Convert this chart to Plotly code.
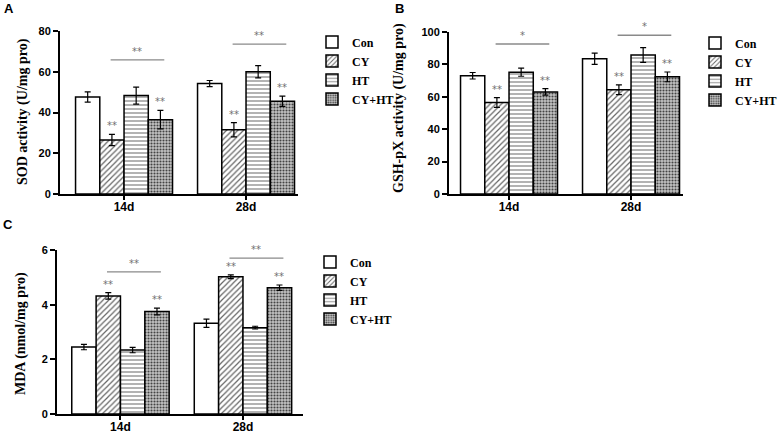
import plotly.graph_objects as go

categories = ["14d", "28d"]
series_names = ["Con", "CY", "HT", "CY+HT"]

# Panel A: SOD activity (U/mg pro)
sod_con = [47.6, 54.2]
sod_cy = [26.5, 31.5]
sod_ht = [48.3, 60.0]
sod_cyht = [36.5, 45.5]
sod_con_err = [2.5, 1.5]
sod_cy_err = [2.8, 3.5]
sod_ht_err = [4.2, 3.0]
sod_cyht_err = [4.5, 2.5]

# Panel B: GSH-pX activity (U/mg pro)
gsh_con = [73.0, 83.5]
gsh_cy = [56.5, 64.3]
gsh_ht = [75.2, 85.8]
gsh_cyht = [63.0, 72.3]
gsh_con_err = [2.0, 3.5]
gsh_cy_err = [3.0, 3.0]
gsh_ht_err = [2.5, 4.5]
gsh_cyht_err = [2.0, 3.0]

# Panel C: MDA (nmol/mg pro)
mda_con = [2.45, 3.32]
mda_cy = [4.32, 5.02]
mda_ht = [2.34, 3.16]
mda_cyht = [3.75, 4.62]
mda_con_err = [0.10, 0.15]
mda_cy_err = [0.12, 0.07]
mda_ht_err = [0.10, 0.05]
mda_cyht_err = [0.12, 0.10]

# significance bars (height per time point) and labels
sod_sig_y = [65.8, 73.6]
gsh_sig_y = [92.6, 98.0]
mda_sig_y = [5.2, 5.7]
sod_sig_txt = ["**", "**"]
gsh_sig_txt = ["*", "*"]
mda_sig_txt = ["**", "**"]
# per-bar markers (above CY and CY+HT)
bar_marks = ["", "**", "", "**"]

W, H = 777, 434
SERIF = "Liberation Serif"
SANS = "Liberation Sans"

styles = [
    dict(color="white", pattern=dict(shape="")),
    dict(color="white", pattern=dict(shape="/", fgcolor="#666666", bgcolor="white", size=4, solidity=0.3, fillmode="replace")),
    dict(color="white", pattern=dict(shape="-", fgcolor="#777777", bgcolor="white", size=4, solidity=0.28, fillmode="replace")),
    dict(color="#999999", pattern=dict(shape=".", fgcolor="#444444", bgcolor="#c4c4c4", size=3, solidity=0.4, fillmode="replace")),
]

fig = go.Figure()

panels = [
    dict(key="", leg="legend", means=[sod_con, sod_cy, sod_ht, sod_cyht],
         errs=[sod_con_err, sod_cy_err, sod_ht_err, sod_cyht_err],
         sig=sod_sig_y, sigt=sod_sig_txt),
    dict(key="2", leg="legend2", means=[gsh_con, gsh_cy, gsh_ht, gsh_cyht],
         errs=[gsh_con_err, gsh_cy_err, gsh_ht_err, gsh_cyht_err],
         sig=gsh_sig_y, sigt=gsh_sig_txt),
    dict(key="3", leg="legend3", means=[mda_con, mda_cy, mda_ht, mda_cyht],
         errs=[mda_con_err, mda_cy_err, mda_ht_err, mda_cyht_err],
         sig=mda_sig_y, sigt=mda_sig_txt),
]

group_w = 0.795
bw = group_w / 4

annotations = []
shapes = []
for p in panels:
    xa = "x" + p["key"]
    ya = "y" + p["key"]
    for s, name in enumerate(series_names):
        st = styles[s]
        fig.add_trace(go.Bar(
            x=categories, y=p["means"][s], name=name,
            xaxis=xa, yaxis=ya, legend=p["leg"],
            marker=dict(color=st["color"], pattern=st["pattern"],
                        line=dict(color="black", width=1.5)),
            error_y=dict(type="data", array=p["errs"][s], color="black",
                         thickness=1.2, width=3),
        ))
        if bar_marks[s]:
            off = -group_w / 2 + bw * (s + 0.5)
            for i in range(len(categories)):
                annotations.append(dict(
                    x=i + off, y=p["means"][s][i] + p["errs"][s][i],
                    xref=xa, yref=ya, text=bar_marks[s], showarrow=False,
                    yanchor="bottom", yshift=1,
                    font=dict(family="DejaVu Sans", size=10, color="#707070")))
    for i in range(len(categories)):
        shapes.append(dict(type="line", xref=xa, yref=ya,
                           x0=i - 0.11, x1=i + 0.33, y0=p["sig"][i], y1=p["sig"][i],
                           line=dict(color="#8a8a8a", width=1.3)))
        annotations.append(dict(
            x=i + 0.11, y=p["sig"][i], xref=xa, yref=ya, text=p["sigt"][i],
            showarrow=False, yanchor="bottom", yshift=1,
            font=dict(family="DejaVu Sans", size=10, color="#707070")))


def px_x(v):
    return v / W


def px_y(v):
    return 1 - v / H


axis_common = dict(showline=True, linecolor="black", linewidth=2, ticks="outside",
                   tickcolor="black", tickwidth=2, showgrid=False, zeroline=False,
                   automargin=False)
xfont = dict(family=SANS, size=12, color="black", weight="bold")
yfont = dict(family=SANS, size=11, color="black", weight="bold")

layout_axes = {
    "xaxis": dict(domain=[px_x(60), px_x(298)], anchor="y", range=[-0.525, 1.426],
                  ticklen=4, ticklabelstandoff=-3, tickfont=xfont, **axis_common),
    "yaxis": dict(domain=[px_y(194), px_y(31)], anchor="x", range=[0, 80],
                  dtick=20, ticklen=5, tickfont=yfont, **axis_common),
    "xaxis2": dict(domain=[px_x(449), px_x(683)], anchor="y2", range=[-0.492, 1.426],
                   ticklen=4, ticklabelstandoff=-3, tickfont=xfont, **axis_common),
    "yaxis2": dict(domain=[px_y(194), px_y(32)], anchor="x2", range=[0, 100],
                   dtick=20, ticklen=5, tickfont=yfont, **axis_common),
    "xaxis3": dict(domain=[px_x(57), px_x(303)], anchor="y3", range=[-0.518, 1.49],
                   ticklen=4, ticklabelstandoff=-3, tickfont=xfont, **axis_common),
    "yaxis3": dict(domain=[px_y(414), px_y(250)], anchor="x3", range=[0, 6],
                   dtick=2, ticklen=5, tickfont=yfont, **axis_common),
}

# y-axis titles and panel letters
titles = [("SOD activity (U/mg pro)", 23, 112),
          ("GSH-pX activity (U/mg pro)", 399, 108),
          ("MDA (nmol/mg pro)", 21, 334)]
for t, x, y in titles:
    annotations.append(dict(text=t, x=px_x(x), y=px_y(y), xref="paper", yref="paper",
                            textangle=-90, showarrow=False, xanchor="center", yanchor="middle",
                            font=dict(family=SERIF, size=14, color="black", weight="bold")))
for t, x, y in [("A", 9, 9), ("B", 399, 8), ("C", 8, 224)]:
    annotations.append(dict(text=t, x=px_x(x), y=px_y(y), xref="paper", yref="paper",
                            showarrow=False, xanchor="center", yanchor="middle",
                            font=dict(family=SANS, size=13, color="black", weight="bold")))

legend_common = dict(font=dict(family=SERIF, size=12, color="black", weight="bold"),
                     bgcolor="rgba(0,0,0,0)", xanchor="left", yanchor="top",
                     xref="container", yref="container",
                     itemwidth=30, tracegroupgap=0, borderwidth=0)

fig.update_layout(
    width=W, height=H, margin=dict(l=0, r=0, t=0, b=0, autoexpand=False),
    paper_bgcolor="white", plot_bgcolor="white",
    barmode="group", bargap=0.205, bargroupgap=0,
    showlegend=True,
    legend=dict(x=px_x(312), y=px_y(27.5), **legend_common),
    legend2=dict(x=px_x(695), y=px_y(28.5), **legend_common),
    legend3=dict(x=px_x(310), y=px_y(247.5), **legend_common),
    annotations=annotations, shapes=shapes,
    **layout_axes,
)

fig.write_html(
    "out.html",
    config={"displayModeBar": False},
    post_script="document.body.style.margin='0';document.body.style.overflow='hidden';",
)
